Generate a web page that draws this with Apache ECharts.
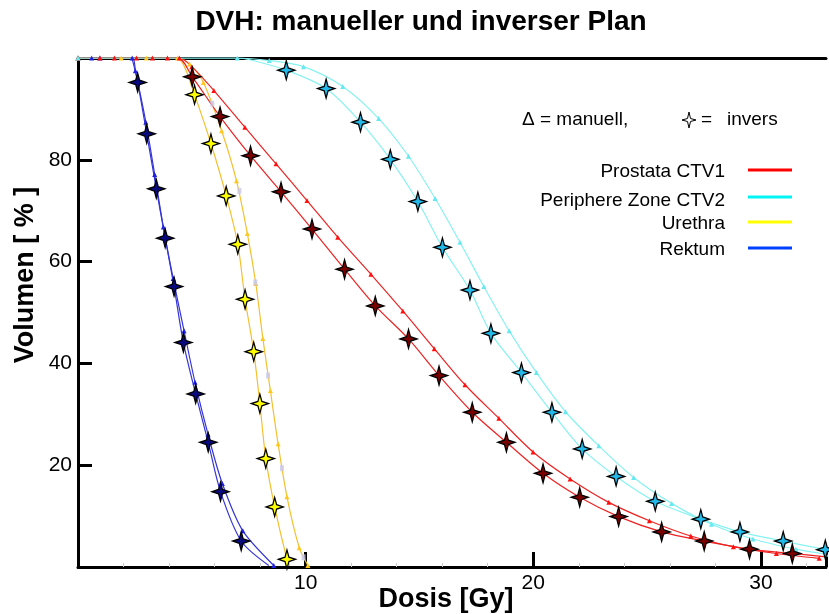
<!DOCTYPE html>
<html>
<head>
<meta charset="utf-8">
<script src="https://cdn.jsdelivr.net/npm/echarts@6/dist/echarts.min.js"></script>
<style>
html,body{margin:0;padding:0;background:#fff;}
#chart{width:829px;height:614px;}
</style>
</head>
<body>
<div id="chart"></div>
<script>
// Achsen
var xTicks = [10, 20, 30];
var yTicks = [20, 40, 60, 80];

// Prostata CTV1
var prostataManuell = [[0,100],[0.96,100],[1.6,100],[2.57,100],[3.27,100],[3.93,100],[4.45,100],[5.0,98.3],[5.97,93.6],[7.33,86.4],[8.70,79.2],[10.06,72.0],[11.41,64.8],[12.87,57.5],[14.27,50.3],[15.65,42.9],[17.0,35.8],[18.49,29.2],[19.99,22.6],[21.62,17.3],[23.32,12.7],[25.10,9.1],[26.92,6.1],[28.79,4.0],[30.68,2.65],[32.56,1.7]];
var prostataInversKurve = [[0,100],[4.37,100],[5.02,96.3],[6.24,88.5],[7.58,80.8],[8.92,73.7],[10.28,66.4],[11.71,58.5],[13.06,51.3],[14.52,44.8],[15.86,37.6],[17.32,30.4],[18.82,24.5],[20.43,18.4],[22.04,13.7],[23.75,9.9],[25.64,6.9],[27.51,5.1],[29.50,3.5],[31.38,2.65],[32.86,2.0]];
var prostataInversSterne = [[5.02,96.3],[6.24,88.5],[7.58,80.8],[8.92,73.7],[10.28,66.4],[11.71,58.5],[13.06,51.3],[14.52,44.8],[15.86,37.6],[17.32,30.4],[18.82,24.5],[20.43,18.4],[22.04,13.7],[23.75,9.9],[25.64,6.9],[27.51,5.1],[29.50,3.5],[31.38,2.65]];

// Periphere Zone CTV2
var periphereManuell = [[0,100],[7.0,100],[8.4,99.5],[9.91,98.3],[11.63,94.4],[13.21,88.1],[14.52,80.7],[15.69,72.4],[16.78,63.8],[17.83,55.1],[18.94,46.4],[20.14,38.2],[21.42,30.5],[22.88,23.8],[24.41,17.6],[26.08,12.5],[27.83,8.4],[29.65,5.5],[31.54,3.5],[32.86,2.5]];
var periphereInversKurve = [[0,100],[7.0,100],[7.6,99.6],[9.15,97.6],[10.90,94.0],[12.41,87.4],[13.72,80.1],[14.93,71.8],[16.01,62.8],[17.22,54.4],[18.14,45.9],[19.48,38.2],[20.82,30.4],[22.15,23.2],[23.64,17.8],[25.36,12.9],[27.36,9.4],[29.08,6.9],[30.98,5.1],[32.86,3.4]];
var periphereInversSterne = [[9.15,97.6],[10.90,94.0],[12.41,87.4],[13.72,80.1],[14.93,71.8],[16.01,62.8],[17.22,54.4],[18.14,45.9],[19.48,38.2],[20.82,30.4],[22.15,23.2],[23.64,17.8],[25.36,12.9],[27.36,9.4],[29.08,6.9],[30.98,5.1],[32.83,3.4]];

// Urethra
var urethraManuell = [[0,100],[1.9,100],[3.0,100],[4.37,100],[4.9,98.8],[5.51,95.2],[6.31,85.7],[6.96,75.9],[7.44,65.5],[7.81,55.7],[8.12,44.9],[8.45,34.7],[8.79,24.2],[9.18,13.8],[9.72,3.8],[10.1,0.3]];
var urethraInversKurve = [[0,100],[4.22,100],[4.6,99.0],[5.12,92.8],[5.84,83.2],[6.51,72.9],[7.02,63.4],[7.34,52.6],[7.72,42.3],[7.99,32.1],[8.25,21.3],[8.64,11.8],[9.18,1.5],[9.3,0.3]];
var urethraInversSterne = [[5.12,92.8],[5.84,83.2],[6.51,72.9],[7.02,63.4],[7.34,52.6],[7.72,42.3],[7.99,32.1],[8.25,21.3],[8.64,11.8],[9.18,1.5]];
var urethraQuadrate = [[5.9,91.0],[7.09,73.9],[7.79,55.9],[8.35,37.6],[8.96,19.4],[9.91,1.9]];

// Rektum
var rektumManuell = [[0,100],[0.6,100],[0.96,100],[2.38,100],[2.52,97.5],[2.98,87.4],[3.37,77.1],[3.75,66.8],[4.18,56.7],[4.66,46.4],[5.14,36.3],[5.71,26.1],[6.34,16.4],[7.24,7.1],[8.6,0.3]];
var rektumInversKurve = [[0,100],[2.3,100],[2.45,98.6],[2.62,95.2],[3.02,85.1],[3.44,74.3],[3.83,64.6],[4.22,55.1],[4.63,44.1],[5.17,34.0],[5.72,24.5],[6.26,14.8],[7.17,5.1],[8.38,0.3]];
var rektumInversSterne = [[2.62,95.2],[3.02,85.1],[3.44,74.3],[3.83,64.6],[4.22,55.1],[4.63,44.1],[5.17,34.0],[5.72,24.5],[6.26,14.8],[7.17,5.1]];

var fontFam = '"Liberation Sans", Arial, sans-serif';
var stern = 'path://M10,0 L12.3,7.7 L20,10 L12.3,12.3 L10,20 L7.7,12.3 L0,10 L7.7,7.7 Z';

var myChart = echarts.init(document.getElementById('chart'));

function manuell(name, data, line, mark) {
    return {
        name: name, type: 'line', data: data, smooth: 0.3,
        symbol: 'triangle', symbolSize: 5,
        lineStyle: { color: line, width: 1.2 },
        itemStyle: { color: mark },
        z: 2
    };
}
function invers(name, data, line) {
    return {
        name: name, type: 'line', data: data, smooth: 0.3, showSymbol: false,
        lineStyle: { color: line, width: 1.2 },
        z: 2
    };
}
function sterne(name, data, fill) {
    return {
        name: name, type: 'scatter', data: data,
        symbol: stern, symbolSize: [17, 19],
        itemStyle: { color: fill, borderColor: '#000', borderWidth: 1.3, opacity: 1 },
        z: 5
    };
}

// Legende
var legende = [
    { text: 'Prostata CTV1', y: 172, ly: 170, color: '#ff0000' },
    { text: 'Periphere Zone CTV2', y: 201, ly: 197, color: '#00f4f4' },
    { text: 'Urethra', y: 224, ly: 222, color: '#ffff00' },
    { text: 'Rektum', y: 250, ly: 248, color: '#0040ff' }
];
var graphics = [];
legende.forEach(function (l) {
    graphics.push({ type: 'text', x: 725, y: l.y,
        style: { text: l.text, font: '19px ' + fontFam, fill: '#000', align: 'right', verticalAlign: 'middle' } });
    graphics.push({ type: 'line', shape: { x1: 748, y1: l.ly, x2: 792, y2: l.ly },
        style: { stroke: l.color, lineWidth: 3 } });
});
graphics.push({ type: 'text', x: 522, y: 120,
    style: { text: 'Δ = manuell,', font: '19px ' + fontFam, fill: '#000', verticalAlign: 'middle' } });
// Stern-Symbol der Erklaerung
var cx = 689, cy = 120;
graphics.push({ type: 'polygon',
    shape: { points: [[cx, cy - 8], [cx + 1.5, cy - 1.5], [cx + 7, cy], [cx + 1.5, cy + 1.5], [cx, cy + 8], [cx - 1.5, cy + 1.5], [cx - 7, cy], [cx - 1.5, cy - 1.5]] },
    style: { fill: '#fff', stroke: '#000', lineWidth: 1 } });
graphics.push({ type: 'text', x: 701, y: 120,
    style: { text: '=', font: '19px ' + fontFam, fill: '#000', verticalAlign: 'middle' } });
graphics.push({ type: 'text', x: 727, y: 120,
    style: { text: 'invers', font: '19px ' + fontFam, fill: '#000', verticalAlign: 'middle' } });
// Achsentitel
graphics.push({ type: 'text', x: 421, y: 22,
    style: { text: 'DVH: manueller und inverser Plan', font: 'bold 28px ' + fontFam, fill: '#000', align: 'center', verticalAlign: 'middle' } });
graphics.push({ type: 'text', x: 446, y: 600,
    style: { text: 'Dosis [Gy]', font: 'bold 27px ' + fontFam, fill: '#000', align: 'center', verticalAlign: 'middle' } });
graphics.push({ type: 'text', x: 26, y: 275, rotation: Math.PI / 2,
    style: { text: 'Volumen [ % ]', font: 'bold 27px ' + fontFam, fill: '#000', align: 'center', verticalAlign: 'middle' } });

var option = {
    animation: false,
    backgroundColor: '#fff',
    grid: { left: 78, right: 0, top: 58, bottom: 47 },
    xAxis: [
        {
            type: 'value', min: 0, max: 32.86, interval: 10,
            splitLine: { show: false },
            axisLine: { onZero: false, lineStyle: { color: '#000', width: 3 } },
            axisTick: { inside: true, length: 15, lineStyle: { color: '#000', width: 3 } },
            minorTick: { show: true, splitNumber: 5, length: 4, lineStyle: { color: '#ccc', width: 1 } },
            axisLabel: {
                margin: 6, color: '#000', fontSize: 21, fontFamily: fontFam,
                formatter: function (v) { return xTicks.indexOf(v) >= 0 ? String(v) : ''; }
            }
        },
        {
            type: 'value', position: 'top', min: 0, max: 32.86,
            splitLine: { show: false },
            axisLine: { show: true, onZero: false, lineStyle: { color: '#000', width: 3 } },
            axisTick: { show: false }, axisLabel: { show: false }
        }
    ],
    yAxis: {
        type: 'value', min: 0, max: 100, interval: 20,
        splitLine: { show: false },
        axisLine: { show: true, onZero: false, lineStyle: { color: '#000', width: 3 } },
        axisTick: { show: true, inside: true, length: 14, lineStyle: { color: '#000', width: 3 } },
        axisLabel: {
            margin: 6, color: '#000', fontSize: 21, fontFamily: fontFam,
            formatter: function (v) { return yTicks.indexOf(v) >= 0 ? String(v) : ''; }
        }
    },
    graphic: graphics,
    series: [
        invers('Rektum invers', rektumInversKurve, '#3535d8'),
        manuell('Rektum manuell', rektumManuell, '#3535d8', '#2020e0'),
        invers('Urethra invers', urethraInversKurve, '#f4c030'),
        manuell('Urethra manuell', urethraManuell, '#f4c030', '#ffc820'),
        {
            name: 'Urethra', type: 'scatter', data: urethraQuadrate,
            symbol: 'rect', symbolSize: [4, 6],
            itemStyle: { color: '#c8c8ee' }, z: 3
        },
        invers('Prostata invers', prostataInversKurve, '#ee2222'),
        manuell('Prostata manuell', prostataManuell, '#ee2222', '#ff1010'),
        invers('Periphere invers', periphereInversKurve, '#88f2f2'),
        manuell('Periphere manuell', periphereManuell, '#88f2f2', '#66e8f0'),
        sterne('Rektum Sterne', rektumInversSterne, '#0a0a80'),
        sterne('Urethra Sterne', urethraInversSterne, '#ffff00'),
        sterne('Prostata Sterne', prostataInversSterne, '#7a0000'),
        sterne('Periphere Sterne', periphereInversSterne, '#22b8e8')
    ]
};
myChart.setOption(option);
</script>
</body>
</html>
